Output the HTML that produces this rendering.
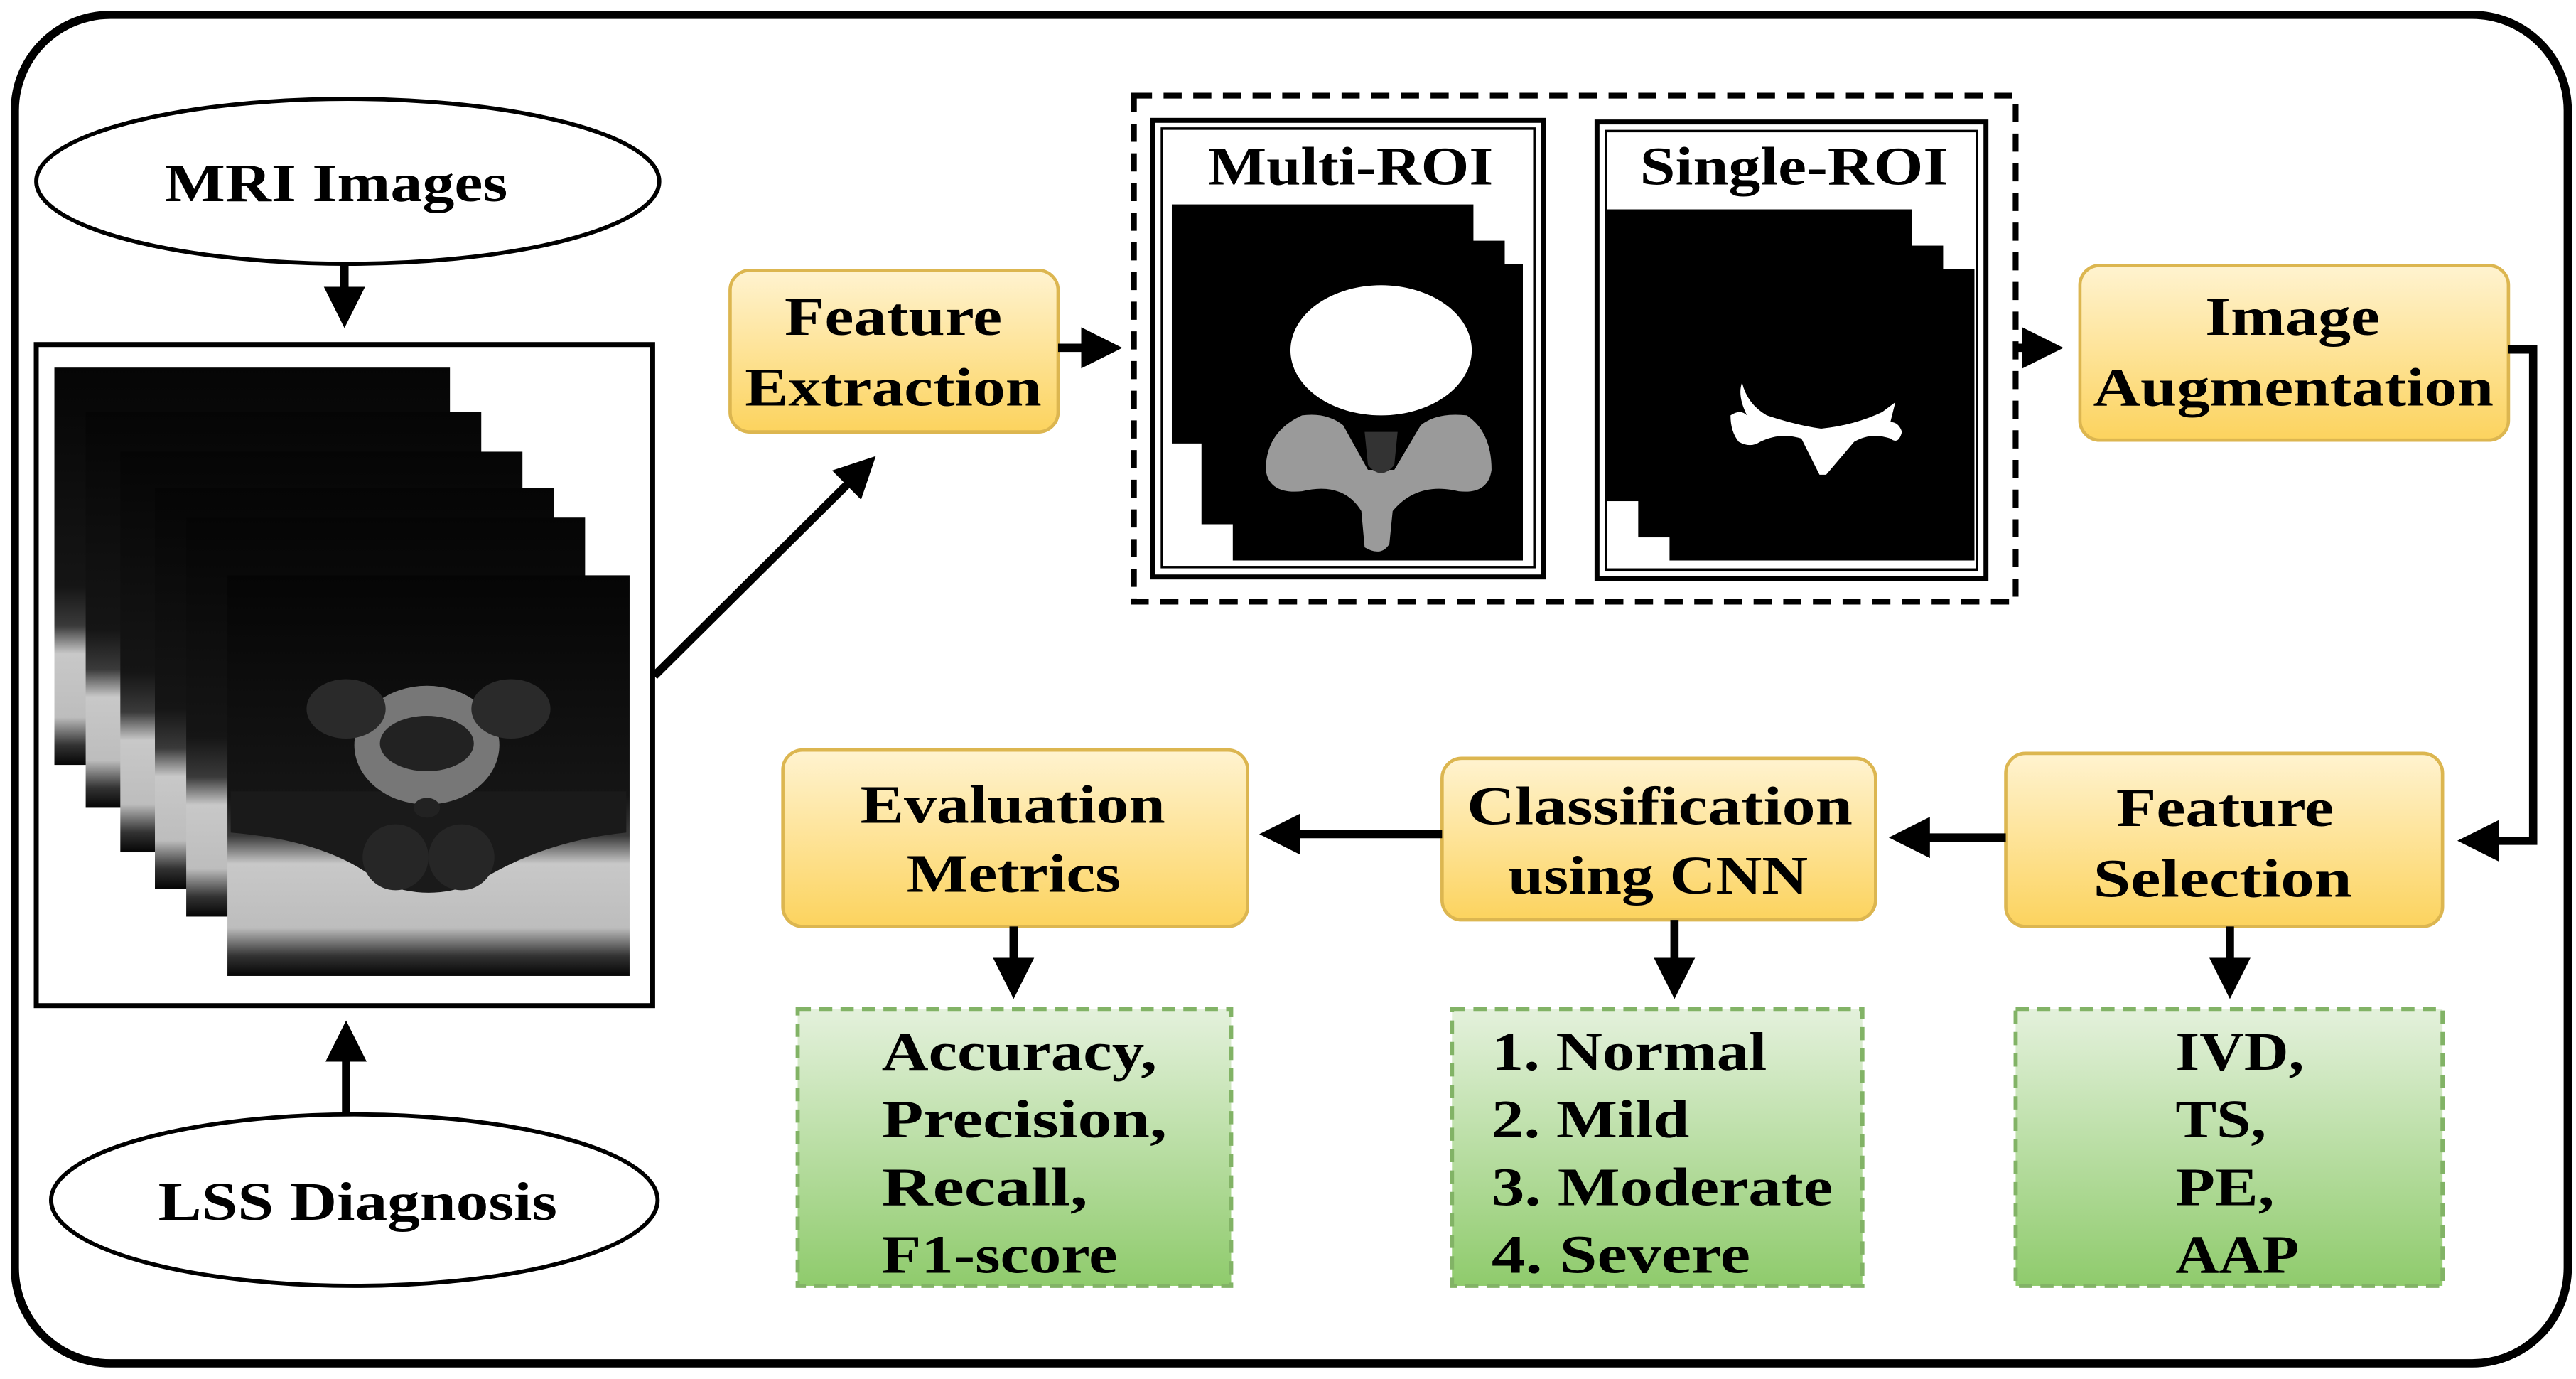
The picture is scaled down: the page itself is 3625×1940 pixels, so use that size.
<!DOCTYPE html>
<html><head><meta charset="utf-8"><style>
html,body{margin:0;padding:0;background:#fff;}
svg{display:block;}
text{font-family:"Liberation Serif","DejaVu Serif",serif;font-weight:bold;font-size:33px;fill:#000;}
</style></head><body>
<svg width="3625" height="1940" viewBox="0 0 1563 836.5" preserveAspectRatio="none" xmlns="http://www.w3.org/2000/svg">
<defs>
<linearGradient id="yg" x1="0" y1="0" x2="0" y2="1"><stop offset="0" stop-color="#fff3d0"/><stop offset="1" stop-color="#fcd35e"/></linearGradient>
<linearGradient id="gg" x1="0" y1="0" x2="0" y2="1"><stop offset="0" stop-color="#e4f1dc"/><stop offset="1" stop-color="#8fcb6c"/></linearGradient>
<linearGradient id="mri" x1="0" y1="0" x2="0" y2="1">
<stop offset="0" stop-color="#050505"/><stop offset="0.55" stop-color="#151515"/><stop offset="0.65" stop-color="#3a3a3a"/><stop offset="0.72" stop-color="#c8c8c8"/><stop offset="0.88" stop-color="#bdbdbd"/><stop offset="0.95" stop-color="#333"/><stop offset="1" stop-color="#050505"/></linearGradient>
<marker id="ah" markerWidth="5" markerHeight="5" refX="3.2" refY="2.5" orient="auto" markerUnits="strokeWidth"><path d="M0,0 L5,2.5 L0,5 z" fill="#000"/></marker>
</defs>
<rect x="0" y="0" width="1563" height="836.5" fill="#fff"/>
<rect x="9" y="9" width="1549" height="818" rx="58" fill="none" stroke="#000" stroke-width="5"/>

<ellipse cx="211" cy="110" rx="189" ry="50" fill="#fff" stroke="#000" stroke-width="2.5"/>
<text x="100" y="122" textLength="208" lengthAdjust="spacingAndGlyphs">MRI Images</text>
<ellipse cx="215" cy="728" rx="184" ry="52" fill="#fff" stroke="#000" stroke-width="2.5"/>
<text x="96" y="740" textLength="242" lengthAdjust="spacingAndGlyphs">LSS Diagnosis</text>
<line x1="209" y1="160" x2="209" y2="190" stroke="#000" stroke-width="5" marker-end="url(#ah)"/>
<line x1="210" y1="676" x2="210" y2="628" stroke="#000" stroke-width="5" marker-end="url(#ah)"/>

<rect x="22" y="209" width="374" height="401" fill="#fff" stroke="#000" stroke-width="3"/>
<rect x="33" y="223" width="240" height="241" fill="url(#mri)"/>
<rect x="52" y="250" width="240" height="240" fill="url(#mri)"/>
<rect x="73" y="274" width="244" height="243" fill="url(#mri)"/>
<rect x="94" y="296" width="242" height="243" fill="url(#mri)"/>
<rect x="113" y="314" width="242" height="242" fill="url(#mri)"/>
<g>
<rect x="138" y="349" width="244" height="243" fill="url(#mri)"/>
<path d="M140,505 Q200,510 230,535 Q260,548 290,535 Q330,510 380,505 L380,480 L140,480 z" fill="#1a1a1a"/>
<ellipse cx="259" cy="452" rx="44" ry="36" fill="#777"/>
<ellipse cx="210" cy="430" rx="24" ry="18" fill="#2a2a2a"/>
<ellipse cx="310" cy="430" rx="24" ry="18" fill="#2a2a2a"/>
<ellipse cx="259" cy="451" rx="28.5" ry="16.8" fill="#222"/>
<ellipse cx="240" cy="520" rx="20" ry="20" fill="#262626"/>
<ellipse cx="280" cy="520" rx="20" ry="20" fill="#262626"/>
<ellipse cx="259" cy="490" rx="8" ry="6" fill="#222"/>
</g>
<line x1="397" y1="410" x2="525" y2="283" stroke="#000" stroke-width="5" marker-end="url(#ah)"/>

<rect x="443" y="164" width="199" height="98" rx="12" fill="url(#yg)" stroke="#dcb650" stroke-width="2"/>
<text x="476" y="203" textLength="132" lengthAdjust="spacingAndGlyphs">Feature</text>
<text x="452" y="246" textLength="180" lengthAdjust="spacingAndGlyphs">Extraction</text>
<line x1="642" y1="211" x2="672" y2="211" stroke="#000" stroke-width="5" marker-end="url(#ah)"/>

<rect x="688" y="58" width="535" height="307" fill="#fff" stroke="#000" stroke-width="3.5" stroke-dasharray="11,7"/>
<rect x="699.5" y="73" width="237" height="277" fill="none" stroke="#000" stroke-width="3"/>
<rect x="705" y="78" width="226" height="266" fill="none" stroke="#000" stroke-width="1.5"/>
<text x="733" y="112" textLength="173" lengthAdjust="spacingAndGlyphs">Multi-ROI</text>
<rect x="711" y="124" width="183" height="145" fill="#000"/>
<rect x="729" y="146" width="184" height="172" fill="#000"/>
<rect x="748" y="160" width="176" height="180" fill="#000"/>
<ellipse cx="838" cy="212.5" rx="55" ry="39.5" fill="#fff"/>
<path d="M790,252 Q805,250 815,258 L830,285 L846,285 L862,258 Q872,250 890,252 Q905,262 905,285 Q903,300 885,298 Q860,292 845,310 L843,330 Q838,338 828,332 L826,310 Q815,292 790,298 Q770,300 768,285 Q768,262 790,252 z" fill="#9a9a9a"/>
<path d="M828,262 L848,262 L846,282 Q838,292 830,282 z" fill="#333"/>

<rect x="969" y="74" width="236" height="277" fill="none" stroke="#000" stroke-width="3"/>
<rect x="974.5" y="79.5" width="225" height="266" fill="none" stroke="#000" stroke-width="1.5"/>
<text x="995" y="112" textLength="187" lengthAdjust="spacingAndGlyphs">Single-ROI</text>
<rect x="975" y="127" width="185" height="177" fill="#000"/>
<rect x="994" y="149" width="185" height="177" fill="#000"/>
<rect x="1013" y="163" width="185" height="177" fill="#000"/>
<path d="M1057,232 Q1060,245 1072,252 Q1090,258 1105,260 Q1125,258 1142,250 L1150,244 L1147,256 Q1152,256 1154,262 Q1152,270 1147,266 Q1135,262 1125,268 L1108,288 L1104,288 L1093,266 Q1080,262 1068,268 Q1062,272 1055,268 Q1050,262 1050,252 Q1056,248 1060,252 Q1054,240 1057,232 z" fill="#fff"/>
<line x1="1222" y1="211" x2="1243" y2="211" stroke="#000" stroke-width="5" marker-end="url(#ah)"/>

<rect x="1262" y="161" width="260" height="106" rx="12" fill="url(#yg)" stroke="#dcb650" stroke-width="2"/>
<text x="1338" y="203" textLength="106" lengthAdjust="spacingAndGlyphs">Image</text>
<text x="1270" y="246" textLength="243" lengthAdjust="spacingAndGlyphs">Augmentation</text>
<polyline points="1522,212 1537,212 1537,510 1500,510" fill="none" stroke="#000" stroke-width="5" marker-end="url(#ah)"/>

<rect x="1217" y="457" width="265" height="105" rx="12" fill="url(#yg)" stroke="#dcb650" stroke-width="2"/>
<text x="1284" y="501" textLength="132" lengthAdjust="spacingAndGlyphs">Feature</text>
<text x="1270" y="544" textLength="157" lengthAdjust="spacingAndGlyphs">Selection</text>
<line x1="1217" y1="508" x2="1155" y2="508" stroke="#000" stroke-width="5" marker-end="url(#ah)"/>

<rect x="875" y="460" width="263" height="98" rx="12" fill="url(#yg)" stroke="#dcb650" stroke-width="2"/>
<text x="890" y="500" textLength="234" lengthAdjust="spacingAndGlyphs">Classification</text>
<text x="915" y="542" textLength="182" lengthAdjust="spacingAndGlyphs">using CNN</text>
<line x1="875" y1="506" x2="773" y2="506" stroke="#000" stroke-width="5" marker-end="url(#ah)"/>

<rect x="475" y="455" width="282" height="107" rx="12" fill="url(#yg)" stroke="#dcb650" stroke-width="2"/>
<text x="522" y="499" textLength="185" lengthAdjust="spacingAndGlyphs">Evaluation</text>
<text x="550" y="541" textLength="130" lengthAdjust="spacingAndGlyphs">Metrics</text>

<line x1="615" y1="562" x2="615" y2="597" stroke="#000" stroke-width="5" marker-end="url(#ah)"/>
<line x1="1016" y1="558" x2="1016" y2="597" stroke="#000" stroke-width="5" marker-end="url(#ah)"/>
<line x1="1353" y1="562" x2="1353" y2="597" stroke="#000" stroke-width="5" marker-end="url(#ah)"/>

<rect x="484" y="612" width="263" height="168" fill="url(#gg)" stroke="#82b366" stroke-width="2.5" stroke-dasharray="8,5"/>
<text x="535" y="649" textLength="167" lengthAdjust="spacingAndGlyphs">Accuracy,</text>
<text x="535" y="690" textLength="173" lengthAdjust="spacingAndGlyphs">Precision,</text>
<text x="535" y="731" textLength="125" lengthAdjust="spacingAndGlyphs">Recall,</text>
<text x="535" y="772" textLength="143" lengthAdjust="spacingAndGlyphs">F1-score</text>
<rect x="881" y="612" width="249" height="168" fill="url(#gg)" stroke="#82b366" stroke-width="2.5" stroke-dasharray="8,5"/>
<text x="905" y="649" textLength="167" lengthAdjust="spacingAndGlyphs">1. Normal</text>
<text x="905" y="690" textLength="120" lengthAdjust="spacingAndGlyphs">2. Mild</text>
<text x="905" y="731" textLength="207" lengthAdjust="spacingAndGlyphs">3. Moderate</text>
<text x="905" y="772" textLength="157" lengthAdjust="spacingAndGlyphs">4. Severe</text>
<rect x="1223" y="612" width="259" height="168" fill="url(#gg)" stroke="#82b366" stroke-width="2.5" stroke-dasharray="8,5"/>
<text x="1320" y="649" textLength="78" lengthAdjust="spacingAndGlyphs">IVD,</text>
<text x="1320" y="690" textLength="55" lengthAdjust="spacingAndGlyphs">TS,</text>
<text x="1320" y="731" textLength="60" lengthAdjust="spacingAndGlyphs">PE,</text>
<text x="1320" y="772" textLength="75" lengthAdjust="spacingAndGlyphs">AAP</text>
</svg>
</body></html>
